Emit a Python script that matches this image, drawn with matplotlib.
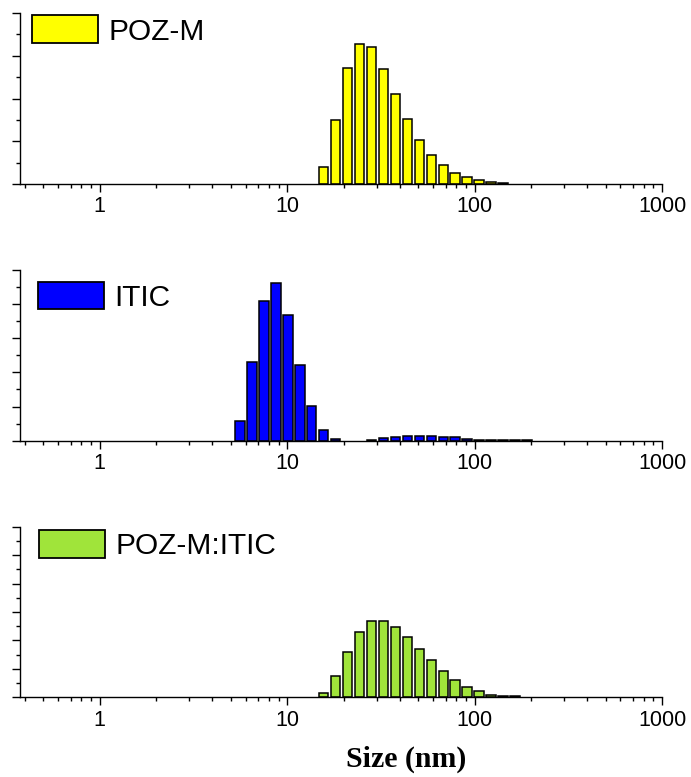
import matplotlib
matplotlib.use("Agg")
import matplotlib.pyplot as plt
from matplotlib.ticker import FixedLocator, NullFormatter, MultipleLocator

# bin centres (nm) of the size distribution
poz_sizes = [15.69, 18.17, 21.04, 24.36, 28.21, 32.67, 37.84, 43.82,
             50.75, 58.77, 68.06, 78.82, 91.28, 105.7, 122.4, 141.8]
poz_vals = [1.95, 7.45, 13.53, 16.41, 16.02, 13.45, 10.49, 7.57,
            5.11, 3.39, 2.22, 1.32, 0.85, 0.43, 0.23, 0.15]

itic_sizes = [5.615, 6.503, 7.531, 8.721, 10.1, 11.7, 13.54, 15.69, 18.17,
              28.21, 32.67, 37.84, 43.82, 50.75, 58.77, 68.06, 78.82,
              91.28, 105.7, 122.4, 141.8, 164.2, 190.1]
itic_vals = [2.83, 11.53, 20.5, 23.04, 18.41, 11.09, 5.02, 1.57, 0.25,
             0.15, 0.34, 0.49, 0.73, 0.73, 0.73, 0.49, 0.49,
             0.25, 0.15, 0.15, 0.12, 0.12, 0.07]

blend_sizes = [15.69, 18.17, 21.04, 24.36, 28.21, 32.67, 37.84, 43.82, 50.75,
               58.77, 68.06, 78.82, 91.28, 105.7, 122.4, 141.8, 164.2]
blend_vals = [0.76, 3.74, 7.91, 11.55, 13.48, 13.48, 12.36, 10.6, 8.56,
              6.5, 4.57, 2.99, 1.88, 1.11, 0.47, 0.3, 0.18]

panels = [
    ("POZ-M", poz_sizes, poz_vals, "#ffff00", 20),
    ("ITIC", itic_sizes, itic_vals, "#0000ff", 25),
    ("POZ-M:ITIC", blend_sizes, blend_vals, "#a0e43a", 30),
]
x_ticks = [1, 10, 100, 1000]
x_labels = ["1", "10", "100", "1000"]

W, H = 691, 777
fig = plt.figure(figsize=(W / 100, H / 100), dpi=100)
fig.patch.set_facecolor("white")

# axes boxes in pixels: (top, bottom)
boxes = [(13, 184), (270, 440.7), (526.7, 697.3)]
legend_pos = [(32, 15.5), (38, 281.5), (39, 530)]
left_px, right_px = 20, 662

half = 10 ** 0.025  # half bar width in log space
for (name, sizes, vals, color, ymax), (top, bot), (lx, ly) in zip(panels, boxes, legend_pos):
    ax = fig.add_axes([left_px / W, 1 - bot / H, (right_px - left_px) / W, (bot - top) / H])
    lefts = [s / half for s in sizes]
    widths = [s * half - s / half for s in sizes]
    bars = ax.bar(lefts, vals, width=widths, align="edge", color=color,
                  edgecolor="black", linewidth=1.1, label=name)
    ax.set_xscale("log")
    ax.set_xlim(0.376, 1000)
    ax.set_ylim(0, ymax)
    ax.xaxis.set_major_locator(FixedLocator(x_ticks))
    ax.set_xticklabels(x_labels)
    ax.xaxis.set_minor_formatter(NullFormatter())
    ax.yaxis.set_major_locator(MultipleLocator(5))
    ax.yaxis.set_minor_locator(MultipleLocator(2.5))
    ax.set_yticklabels([])
    for s in ("top", "right"):
        ax.spines[s].set_visible(False)
    for s in ("left", "bottom"):
        ax.spines[s].set_linewidth(1.0)
    ax.tick_params(which="major", direction="out", length=6, width=1.0,
                   labelsize=15.5, pad=3)
    ax.tick_params(which="minor", direction="out", length=3, width=1.0)
    for lab in ax.get_xticklabels():
        lab.set_fontfamily("Liberation Sans")

    # legend: box + label
    lx_ax = (lx - left_px) / (right_px - left_px)
    ly_ax = (bot - ly) / (bot - top)
    leg = ax.legend(handles=[bars], loc="upper left", bbox_to_anchor=(lx_ax, ly_ax),
                    frameon=False, borderaxespad=0, borderpad=0,
                    handlelength=2.2, handleheight=1.05, handletextpad=0.35,
                    prop={"family": "Liberation Sans", "size": 21.5})
    for p in leg.get_patches():
        p.set_linewidth(1.3)

fig.text(406 / W, 1 - 759 / H, "Size (nm)", ha="center", va="center",
         fontfamily="Liberation Serif", fontweight="bold", fontsize=21.5)

fig.savefig("out.png", dpi=100, facecolor="white")
